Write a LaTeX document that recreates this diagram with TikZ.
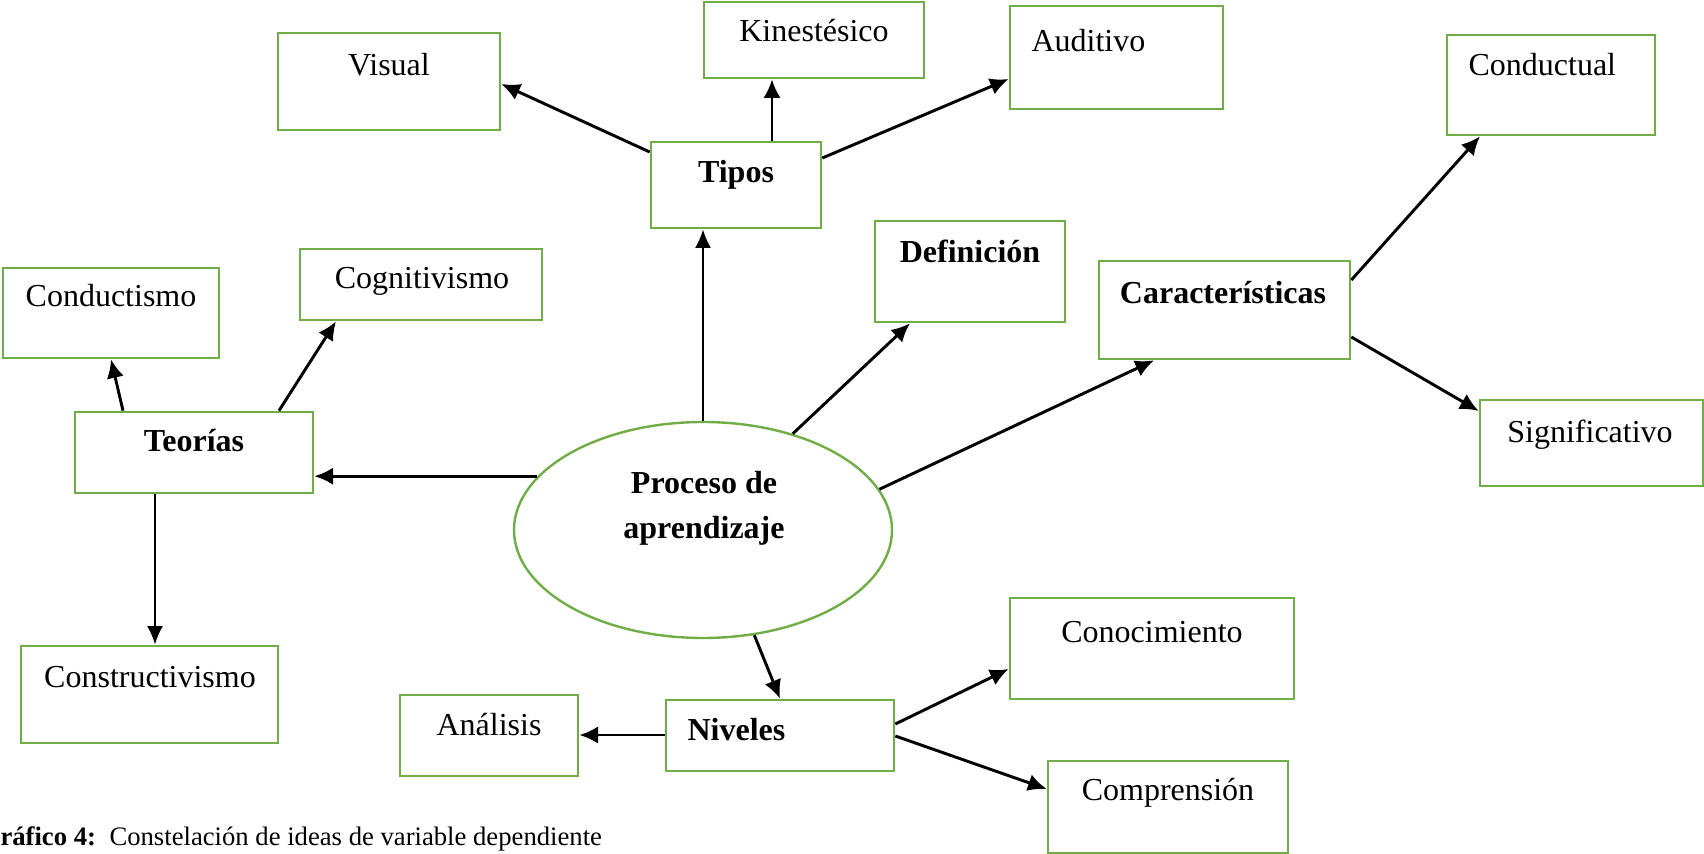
\documentclass[tikz,border=0pt]{standalone}
\usepackage{fontspec}
\setmainfont{Liberation Serif}
\usetikzlibrary{arrows.meta,fit,shapes.geometric}
\definecolor{boxgreen}{HTML}{70AD47}
\begin{document}
\begin{tikzpicture}[x=0.375pt,y=-0.375pt,
  box/.style={draw=boxgreen,line width=1pt,inner sep=0pt,rectangle},
  txt/.style={font=\fontsize{12}{14}\selectfont,inner sep=0pt,anchor=base},
  btxt/.style={font=\fontsize{12}{14}\selectfont\bfseries,inner sep=0pt,anchor=base},
  captxt/.style={font=\fontsize{10}{12}\selectfont,inner sep=0pt,anchor=base west},
  arr/.style={line width=1.1pt,-{Latex[length=7pt,width=6.5pt]}},
  thinarr/.style={line width=0.75pt,-{Latex[length=7pt,width=6pt]}}]
\useasboundingbox (0,0) rectangle (1704,854);

% boxes
\node[box,fit={(278,33)(500,130)}] (visual) {};
\node[box,fit={(704,2)(924,78)}] (kin) {};
\node[box,fit={(651,142)(821,228)}] (tipos) {};
\node[box,fit={(1010,6)(1223,109)}] (aud) {};
\node[box,fit={(1447,35)(1655,135)}] (condl) {};
\node[box,fit={(875,221)(1065,322)}] (def) {};
\node[box,fit={(1099,261)(1350,359)}] (car) {};
\node[box,fit={(1480,400)(1703,486)}] (sig) {};
\node[box,fit={(3,268)(219,358)}] (cdm) {};
\node[box,fit={(300,249)(542,320)}] (cog) {};
\node[box,fit={(75,412)(313,493)}] (teo) {};
\node[box,fit={(21,646)(278,743)}] (constr) {};
\node[box,fit={(400,695)(578,776)}] (anal) {};
\node[box,fit={(666,700)(894,771)}] (niv) {};
\node[box,fit={(1010,598)(1294,699)}] (conoc) {};
\node[box,fit={(1048,761)(1288,853)}] (comp) {};
\node[draw=boxgreen,line width=0.9pt,ellipse,inner sep=0pt,
      minimum width=378*0.375pt,minimum height=216*0.375pt] (ell) at (703,530) {};

% texts
\node[txt] (visual-t) at (389,76) {Visual};
\node[txt] (kin-t) at (814,42) {Kinestésico};
\node[btxt] (tipos-t) at (736,183) {Tipos};
\node[txt,anchor=base west] (aud-t) at (1031,52) {Auditivo};
\node[txt,anchor=base west] (condl-t) at (1468,76) {Conductual};
\node[btxt] (def-t) at (970,263) {Definición};
\node[btxt] (car-t) at (1223,304) {Características};
\node[txt] (sig-t) at (1590,443) {Significativo};
\node[txt] (cdm-t) at (111,307) {Conductismo};
\node[txt] (cog-t) at (422,289) {Cognitivismo};
\node[btxt] (teo-t) at (194,452) {Teorías};
\node[txt] (constr-t) at (150,688) {Constructivismo};
\node[txt] (anal-t) at (489,735) {Análisis};
\node[btxt,anchor=base west] (niv-t) at (687,740) {Niveles};
\node[txt] (conoc-t) at (1152,643) {Conocimiento};
\node[txt] (comp-t) at (1168,800) {Comprensión};
\node[btxt] (ell-t1) at (704,494) {Proceso de};
\node[btxt] (ell-t2) at (704,539) {aprendizaje};

% caption
\node[captxt,font=\fontsize{10}{12}\selectfont\bfseries] (cap1) at (0,845) {ráfico 4:};
\node[captxt] (cap2) at (109,845) {Constelación de ideas de variable dependiente};

% connectors
\draw[arr] (tipos.west |- 0,152) -- (visual.east |- 0,84);
\draw[arr] (tipos.north -| 772,0) -- (kin.south -| 772,0);
\draw[arr] (tipos.east |- 0,158) -- (aud.west |- 0,79);
\draw[thinarr] (ell.north) -- (ell.north |- tipos.south);
\draw[arr] (ell.47.8) -- (def.south -| 910,0);
\draw[arr] (ell.13.6) -- (car.south -| 1154,0);
\draw[arr] (car.east |- 0,280) -- (condl.south -| 1480,0);
\draw[arr] (car.east |- 0,337) -- (sig.west |- 0,411);
\draw[arr] (ell.162) -- (teo.east |- ell.162);
\draw[arr] (teo.north -| 123,0) -- (cdm.south);
\draw[arr] (teo.north -| 279,0) -- (cog.south -| 336,0);
\draw[thinarr] (teo.south -| 155,0) -- (constr.north -| 155,0);
\draw[arr] (ell.-64) -- (niv.north);
\draw[arr] (niv.west |- 0,735) -- (anal.east |- 0,735);
\draw[arr] (niv.east |- 0,724) -- (conoc.west |- 0,669);
\draw[arr] (niv.east |- 0,736) -- (comp.west |- 0,789);
\end{tikzpicture}
\end{document}
